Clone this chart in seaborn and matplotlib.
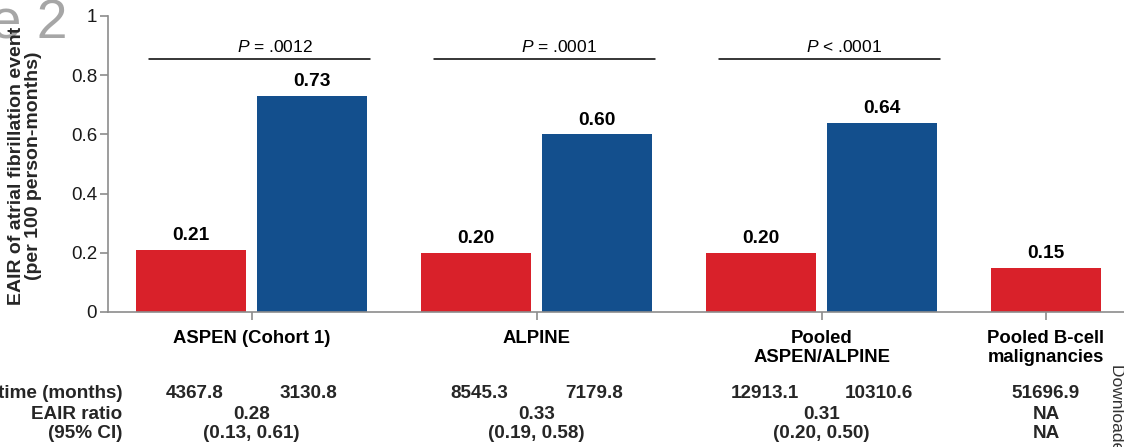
import numpy as np
import pandas as pd
import matplotlib
matplotlib.use("Agg")
import matplotlib.pyplot as plt
import matplotlib.transforms as mtransforms
import seaborn as sns

# ---------------- data ----------------
studies = ["ASPEN (Cohort 1)", "ALPINE", "Pooled\nASPEN/ALPINE", "Pooled B-cell\nmalignancies"]
zanu_rate = [0.21, 0.20, 0.20, 0.15]
ibru_rate = [0.73, 0.60, 0.64, None]
zanu_time = ["4367.8", "8545.3", "12913.1", "51696.9"]
ibru_time = ["3130.8", "7179.8", "10310.6", None]
eair_ratio = ["0.28", "0.33", "0.31", "NA"]
eair_ci = ["(0.13, 0.61)", "(0.19, 0.58)", "(0.20, 0.50)", "NA"]
p_values = ["= .0012", "= .0001", "< .0001"]
row_labels = ["time (months)", "EAIR ratio", "(95% CI)"]
yticks = [0, 0.2, 0.4, 0.6, 0.8, 1]
ytick_labels = ["0", "0.2", "0.4", "0.6", "0.8", "1"]
arms = ["Zanubrutinib", "Ibrutinib"]

# ---------------- layout / style ----------------
W, H = 1124, 447
group_pos = [0, 1, 2, 2.787]
offset = 0.212
RED = "#D9212A"
BLUE = "#134F8D"
GRAY = "#8C8C8C"

sns.set_theme(style="white")
plt.rcParams["font.family"] = ["Liberation Sans", "DejaVu Sans"]
plt.rcParams["mathtext.fontset"] = "custom"
plt.rcParams["mathtext.rm"] = "Liberation Sans"
plt.rcParams["mathtext.it"] = "Liberation Sans:italic"

rows = []
for i, study in enumerate(studies):
    two = ibru_rate[i] is not None
    rows.append({"study": study, "arm": arms[0],
                 "pos": group_pos[i] - offset if two else group_pos[i],
                 "rate": zanu_rate[i]})
    if two:
        rows.append({"study": study, "arm": arms[1],
                     "pos": group_pos[i] + offset, "rate": ibru_rate[i]})
df = pd.DataFrame(rows)

fig = plt.figure(figsize=(W / 100, H / 100), dpi=100)
ax = fig.add_axes([107.5 / W, (H - 312) / H, (W - 107.5) / W, 296 / H])

sns.barplot(data=df, x="pos", y="rate", hue="arm", hue_order=arms,
            palette={arms[0]: RED, arms[1]: BLUE}, native_scale=True,
            dodge=False, width=0.91, saturation=1, legend=False,
            errorbar=None, linewidth=0, edgecolor="none", ax=ax)

for cont in ax.containers:
    ax.bar_label(cont, fmt="%.2f", padding=4, fontsize=13.8, fontweight="bold",
                 color="black")

ax.set_xlim(-0.506, 3.061)
ax.set_ylim(0, 1)
ax.set_xticks(group_pos)
ax.set_xticklabels(studies, fontsize=13.3, fontweight="bold", color="black",
                   linespacing=1.15)
ax.set_yticks(yticks)
ax.set_yticklabels(ytick_labels, fontsize=13.5, color="#1a1a1a")
ax.set_xlabel("")
ax.set_ylabel("")
for s in ["top", "right"]:
    ax.spines[s].set_visible(False)
for s in ["left", "bottom"]:
    ax.spines[s].set_color(GRAY)
    ax.spines[s].set_linewidth(1.2)
ax.tick_params(axis="both", which="major", direction="out", length=5.5,
               width=1.2, color=GRAY, bottom=True, left=True)
ax.tick_params(axis="x", pad=7.5)
ax.tick_params(axis="y", pad=2)

# P-value brackets
for i, p in enumerate(p_values):
    g = group_pos[i]
    ax.plot([g - 0.36, g + 0.415], [0.854, 0.854], color="black", lw=1.1,
            clip_on=False)
    ax.text(g + 0.08, 0.878, r"$\it{P}$ " + p, ha="center", va="baseline",
            fontsize=12.5, color="black")

# y label
fig.text(25 / W, 1 - 166 / H,
         "EAIR of atrial fibrillation event\n(per 100 person-months)",
         rotation=90, ha="center", va="center", fontsize=14,
         fontweight="bold", linespacing=1.05, multialignment="center")

# table below
trans = mtransforms.blended_transform_factory(ax.transData, fig.transFigure)
row_y = [1 - 398 / H, 1 - 419 / H, 1 - 438.5 / H]
FS_T = 13.6
for lab, y in zip(row_labels, row_y):
    fig.text(122.7 / W, y, lab, ha="right", va="baseline", fontsize=FS_T,
             fontweight="bold")
for i, g in enumerate(group_pos):
    if ibru_time[i] is not None:
        ax.text(g - 0.2, row_y[0], zanu_time[i], transform=trans, ha="center",
                va="baseline", fontsize=FS_T, fontweight="bold")
        ax.text(g + 0.2, row_y[0], ibru_time[i], transform=trans, ha="center",
                va="baseline", fontsize=FS_T, fontweight="bold")
    else:
        ax.text(g, row_y[0], zanu_time[i], transform=trans, ha="center",
                va="baseline", fontsize=FS_T, fontweight="bold")
    ax.text(g, row_y[1], eair_ratio[i], transform=trans, ha="center",
            va="baseline", fontsize=FS_T, fontweight="bold")
    ax.text(g, row_y[2], eair_ci[i], transform=trans, ha="center",
            va="baseline", fontsize=FS_T, fontweight="bold")

# cropped page decorations
fig.text(68 / W, 1 - 38 / H, "Figure 2", ha="right", va="baseline",
         fontsize=40, color="#A6A6A6", zorder=0)
fig.text(1116 / W, 1 - 364 / H, "Downloaded from", rotation=270,
         ha="center", va="top", fontsize=12.5, color="#333333")

fig.savefig("out.png", dpi=100)
